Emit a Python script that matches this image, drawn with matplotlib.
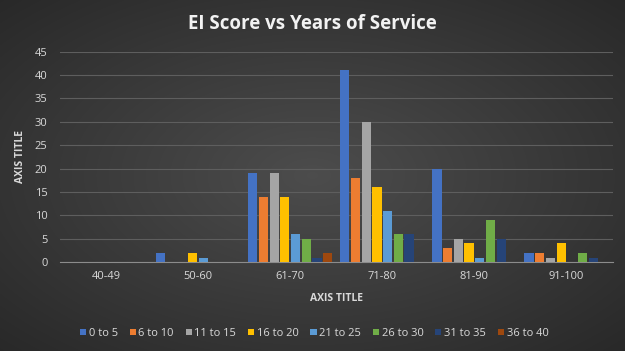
import numpy as np
import matplotlib.pyplot as plt

# EI score ranges vs years of service counts
categories = ['40-49', '50-60', '61-70', '71-80', '81-90', '91-100']
series_names = ['0 to 5', '6 to 10', '11 to 15', '16 to 20',
                '21 to 25', '26 to 30', '31 to 35', '36 to 40']
s0_5 = [0, 2, 19, 41, 20, 2]
s6_10 = [0, 0, 14, 18, 3, 2]
s11_15 = [0, 0, 19, 30, 5, 1]
s16_20 = [0, 2, 14, 16, 4, 4]
s21_25 = [0, 1, 6, 11, 1, 0]
s26_30 = [0, 0, 5, 6, 9, 2]
s31_35 = [0, 0, 1, 6, 5, 1]
s36_40 = [0, 0, 2, 0, 0, 0]
yticks = [0, 5, 10, 15, 20, 25, 30, 35, 40, 45]

series = [s0_5, s6_10, s11_15, s16_20, s21_25, s26_30, s31_35, s36_40]
colors = ['#4472C4', '#ED7D31', '#A5A5A5', '#FFC000',
          '#5B9BD5', '#70AD47', '#264478', '#9E480E']

plt.rcParams['font.family'] = ['Open Sans', 'DejaVu Sans']
txt = '#d9d9d9'

fig = plt.figure(figsize=(6.25, 3.51), dpi=100)

# dark radial gradient background
bg = fig.add_axes([0, 0, 1, 1], zorder=-10)
yy, xx = np.mgrid[-1:1:200j, -1:1:350j]
r = np.clip(np.sqrt(xx**2 + yy**2) / np.sqrt(2), 0, 1)
g = 0.30 - 0.14 * r
img = np.dstack([g, g, g])
bg.imshow(img, aspect='auto', extent=[0, 1, 0, 1], interpolation='bilinear')
bg.set_xlim(0, 1)
bg.set_ylim(0, 1)
bg.axis('off')

ax = fig.add_axes([0.096, 0.253, 0.884, 0.6])
ax.set_facecolor('none')

n = len(series)
x = np.arange(len(categories))
slot = 0.93 / n
w = slot * 0.86
for i, (name, vals, c) in enumerate(zip(series_names, series, colors)):
    ax.bar(x - 0.465 + slot * (i + 0.5), vals, width=w, color=c,
           label=name, zorder=3)

ax.set_xlim(-0.5, len(categories) - 0.5)
ax.set_ylim(0, 45)
ax.set_yticks(yticks)
ax.set_xticks(x)
ax.set_xticklabels(categories)
ax.tick_params(colors=txt, labelsize=8, length=0)
ax.tick_params(axis='y', pad=9)
ax.tick_params(axis='x', pad=6)
ax.grid(axis='y', color='#5e5e5e', linewidth=0.8, zorder=0)
for s in ['top', 'right', 'left']:
    ax.spines[s].set_visible(False)
ax.spines['bottom'].set_color('#8c8c8c')

ax.set_xlabel('AXIS TITLE', color=txt, fontsize=7.5, fontweight='bold',
              labelpad=8)
ax.set_ylabel('AXIS TITLE', color=txt, fontsize=7.5, fontweight='bold',
              labelpad=6)
fig.suptitle('EI Score vs Years of Service', color='#f2f2f2', fontsize=13.5,
             fontweight='bold', y=0.96)

leg = ax.legend(loc='upper center', bbox_to_anchor=(0.46, -0.265), ncol=8,
                frameon=False, fontsize=8, handlelength=0.55,
                handleheight=0.55, handletextpad=0.25, columnspacing=1.05)
for t in leg.get_texts():
    t.set_color(txt)

fig.savefig('out.png', dpi=100)
